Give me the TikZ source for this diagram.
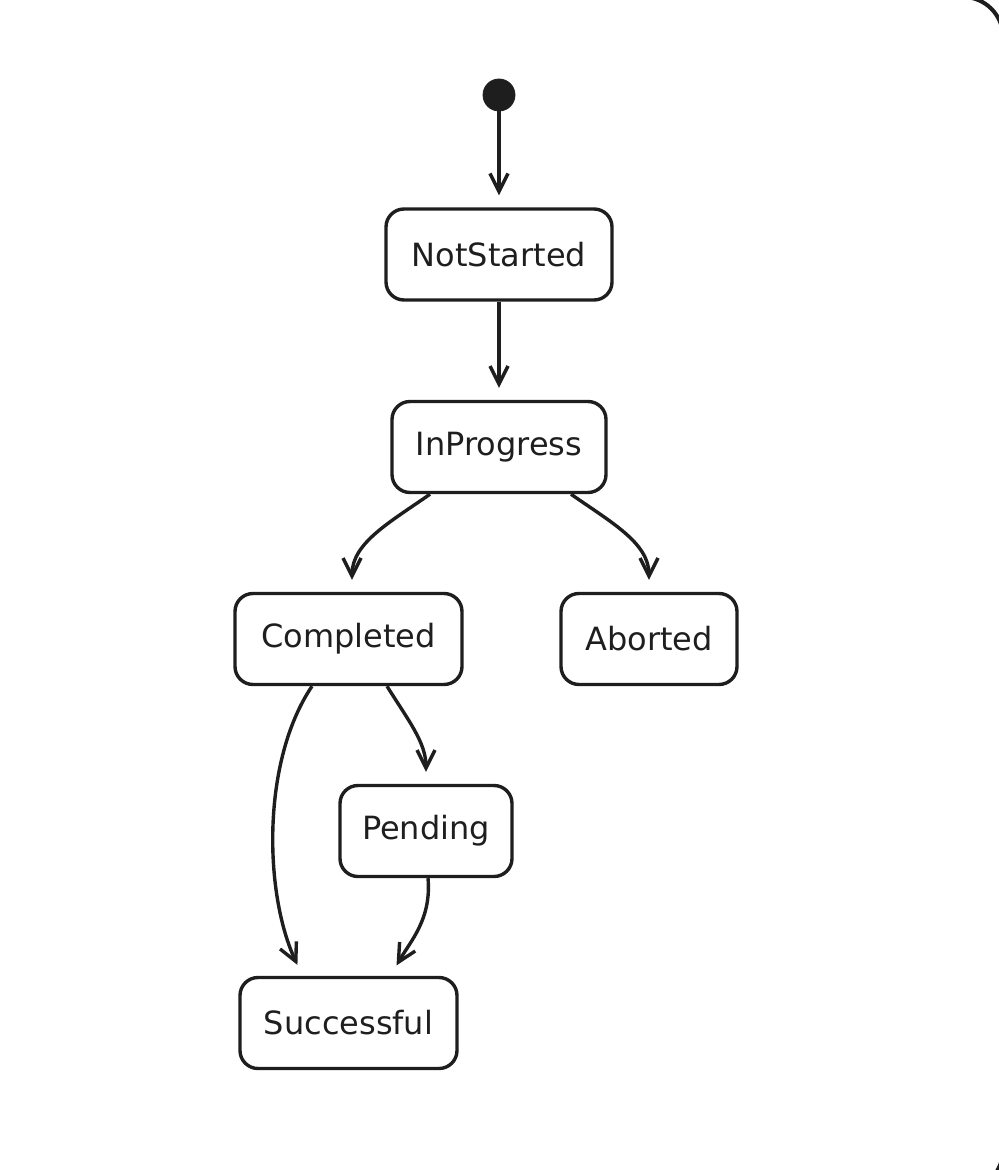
\documentclass[tikz,border=0pt]{standalone}
\usepackage{fontspec}
\setmainfont{DejaVu Sans}
\usepackage{tikz}
\usetikzlibrary{arrows.meta,positioning}
\definecolor{colorink}{HTML}{1E1E1E}
\tikzstyle{every node}=[text=colorink]
\tikzstyle{statebox}=[rectangle, rounded corners=9pt, minimum height=45.5pt, draw=colorink, line width=1.7pt, inner sep=2pt, font=\fontsize{16}{19}\selectfont]
\tikzstyle{initialdot}=[circle, fill=colorink, draw=colorink, minimum size=16pt, inner sep=0pt]
\tikzstyle{trans}=[draw=colorink, line width=1.7pt, shorten >=6pt]

\begin{document}
\begin{tikzpicture}[x=0.5pt, y=-0.5pt, auto, ->, >={Straight Barb[length=9pt, width=9pt]}]
		
		\useasboundingbox (0, 0) rectangle (999, 1170);
		\begin{scope}
		\clip (0, 0) rectangle (999, 1170);
		\draw[-, colorink, line width=2pt, rounded corners=20pt] (-60, -3) rectangle (1003, 1190);
		\end{scope}
		
		\node[initialdot] at (499, 95) (start) {};
		
		\node[statebox, minimum width=113pt] at (499, 254.5) (notstarted) {NotStarted};
		
		\node[statebox, minimum width=107pt] at (499, 447) (inprogress) {InProgress};
		
		\node[statebox, minimum width=113.5pt] at (348.5, 639) (completed) {Completed};
		
		\node[statebox, minimum width=88pt] at (649, 639) (aborted) {Aborted};
		
		\node[statebox, minimum width=86pt] at (426, 831) (pending) {Pending};
		
		\node[statebox, minimum width=108.5pt] at (348.5, 1023) (successful) {Successful};
		
		\path (start) edge[trans] (notstarted);
		\path (notstarted) edge[trans] (inprogress);
		\path ([xshift=-34.5pt]inprogress.south) edge[trans, out=215, in=90] ([xshift=1.75pt]completed.north);
		\path ([xshift=36pt]inprogress.south) edge[trans, out=-35, in=90] (aborted.north);
		\path ([xshift=-18.25pt]completed.south) edge[trans, out=236, in=115, looseness=0.8] ([xshift=-23pt]successful.north);
		\path ([xshift=19.25pt]completed.south) edge[trans, out=-58, in=90] (pending.north);
		\path ([xshift=1pt]pending.south) edge[trans, out=-85, in=60] ([xshift=21pt]successful.north);
		
		\end{tikzpicture}
\end{document}
